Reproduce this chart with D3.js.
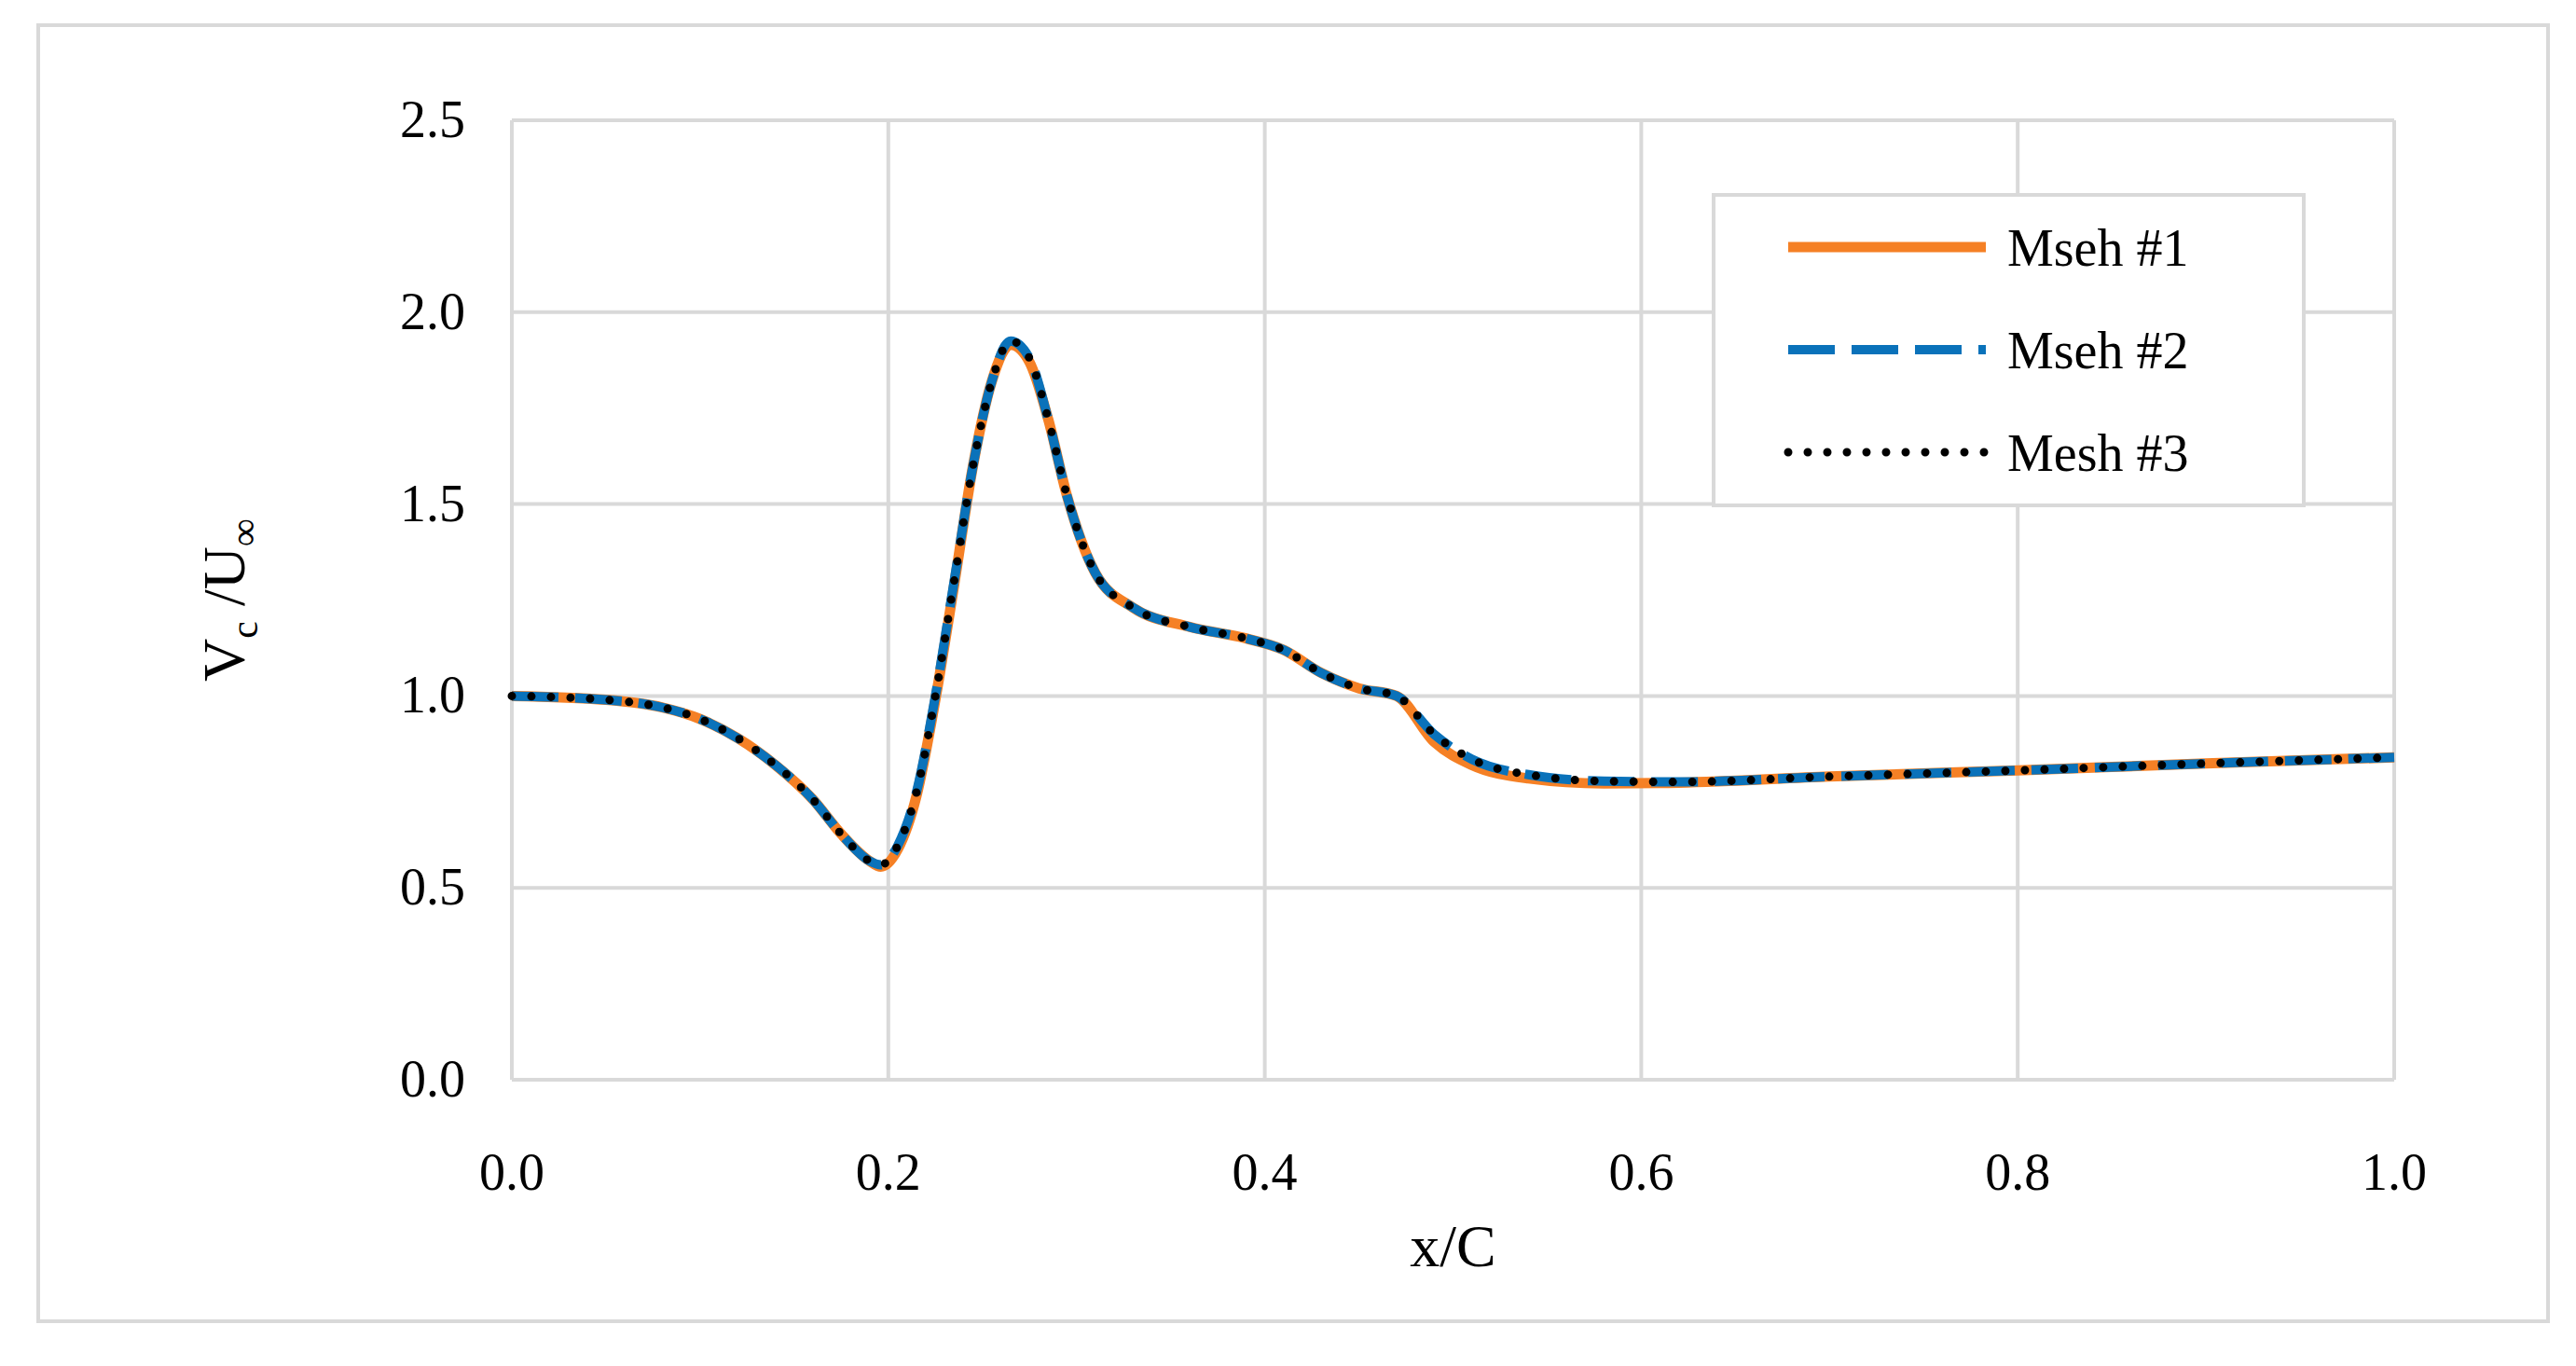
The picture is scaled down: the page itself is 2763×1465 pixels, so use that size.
<!DOCTYPE html>
<html><head><meta charset="utf-8">
<script src="https://cdn.jsdelivr.net/npm/d3@7"></script>
<style>body{margin:0;background:#fff}</style>
</head><body>
<script>
// Data
var xVals = [0, 0.05, 0.08, 0.1, 0.12, 0.14, 0.16, 0.175, 0.19, 0.196, 0.205, 0.215, 0.225, 0.235, 0.245, 0.255, 0.265, 0.275, 0.285, 0.295, 0.31, 0.33, 0.36, 0.39, 0.41, 0.43, 0.45, 0.47, 0.49, 0.51, 0.54, 0.58, 0.62, 0.7, 0.8, 0.9, 1.0];
var mesh2 = [1.0, 0.99, 0.97, 0.94, 0.89, 0.82, 0.73, 0.64, 0.57, 0.56, 0.61, 0.75, 1.0, 1.3, 1.6, 1.82, 1.925, 1.88, 1.72, 1.52, 1.32, 1.23, 1.18, 1.15, 1.12, 1.06, 1.02, 1.0, 0.90, 0.835, 0.795, 0.778, 0.776, 0.79, 0.806, 0.824, 0.84];
var mesh1 = [1.0, 0.99, 0.97, 0.94, 0.89, 0.82, 0.73, 0.64, 0.57, 0.555, 0.60, 0.74, 0.99, 1.29, 1.6, 1.82, 1.915, 1.87, 1.72, 1.52, 1.32, 1.23, 1.18, 1.15, 1.12, 1.06, 1.02, 1.0, 0.88, 0.82, 0.785, 0.772, 0.774, 0.79, 0.806, 0.824, 0.84];
var mesh3 = mesh2;
var xTicks = [0, 0.2, 0.4, 0.6, 0.8, 1.0];
var yTicks = [0, 0.5, 1.0, 1.5, 2.0, 2.5];

var w = 2763, h = 1465;
var pLeft = 549, pRight = 2568, pTop = 129, pBottom = 1158;

var svg = d3.select("body").append("svg").attr("width", w).attr("height", h)
  .style("font-family", "'Liberation Serif', 'DejaVu Serif', serif");

svg.append("rect").attr("x", 41).attr("y", 27).attr("width", 2692).attr("height", 1390)
  .attr("fill", "#fff").attr("stroke", "#d9d9d9").attr("stroke-width", 4);

var x = d3.scaleLinear().domain([0, 1]).range([pLeft, pRight]);
var y = d3.scaleLinear().domain([0, 2.5]).range([pBottom, pTop]);

// grid
svg.append("g").selectAll("line").data(yTicks).enter().append("line")
  .attr("x1", pLeft).attr("x2", pRight).attr("y1", y).attr("y2", y)
  .attr("stroke", "#d9d9d9").attr("stroke-width", 4);
svg.append("g").selectAll("line").data(xTicks).enter().append("line")
  .attr("y1", pTop).attr("y2", pBottom).attr("x1", x).attr("x2", x)
  .attr("stroke", "#d9d9d9").attr("stroke-width", 4);

svg.append("g").selectAll("text").data(yTicks).enter().append("text")
  .attr("x", pLeft - 50).attr("y", function(d) { return y(d) + 18; })
  .attr("text-anchor", "end").attr("font-size", 56).attr("fill", "#000")
  .text(function(d) { return d.toFixed(1); });
svg.append("g").selectAll("text").data(xTicks).enter().append("text")
  .attr("x", x).attr("y", pBottom + 118)
  .attr("text-anchor", "middle").attr("font-size", 56).attr("fill", "#000")
  .text(function(d) { return d.toFixed(1); });

svg.append("text").attr("x", (pLeft + pRight) / 2).attr("y", 1358)
  .attr("text-anchor", "middle").attr("font-size", 64).text("x/C");

var yl = svg.append("text").attr("transform", "translate(262," + ((pTop + pBottom) / 2) + ") rotate(-90)")
  .attr("text-anchor", "middle").attr("font-size", 64);
yl.append("tspan").text("V");
yl.append("tspan").attr("font-size", 42).attr("dy", 14).text("c");
yl.append("tspan").attr("dy", -14).text(" /U");
yl.append("tspan").attr("font-size", 42).attr("dy", 14).text("∞");

function makeLine(vals) {
  return d3.line().curve(d3.curveMonotoneX)
    .x(function(d, i) { return x(xVals[i]); })
    .y(function(d) { return y(d); })(vals);
}

svg.append("path").attr("d", makeLine(mesh1)).attr("fill", "none")
  .attr("stroke", "#f58025").attr("stroke-width", 11);
svg.append("path").attr("d", makeLine(mesh2)).attr("fill", "none")
  .attr("stroke", "#0a72ba").attr("stroke-width", 10).attr("stroke-dasharray", "50,18");
svg.append("path").attr("d", makeLine(mesh3)).attr("fill", "none")
  .attr("stroke", "#000").attr("stroke-width", 9).attr("stroke-linecap", "round")
  .attr("stroke-dasharray", "0,21");

// legend
svg.append("rect").attr("x", 1838).attr("y", 209).attr("width", 633).attr("height", 333)
  .attr("fill", "#fff").attr("stroke", "#d9d9d9").attr("stroke-width", 4);
var legend = [
  {name: "Mseh #1", color: "#f58025", dash: null, wd: 11, cap: "butt"},
  {name: "Mseh #2", color: "#0a72ba", dash: "50,18", wd: 10, cap: "butt"},
  {name: "Mesh #3", color: "#000", dash: "0,21", wd: 9, cap: "round"}
];
legend.forEach(function(d, i) {
  var ly = 265 + i * 110;
  svg.append("line").attr("x1", 1918).attr("x2", 2130).attr("y1", ly).attr("y2", ly)
    .attr("stroke", d.color).attr("stroke-width", d.wd).attr("stroke-dasharray", d.dash)
    .attr("stroke-linecap", d.cap);
  svg.append("text").attr("x", 2153).attr("y", ly + 20).attr("font-size", 56).text(d.name);
});
</script>
</body></html>
